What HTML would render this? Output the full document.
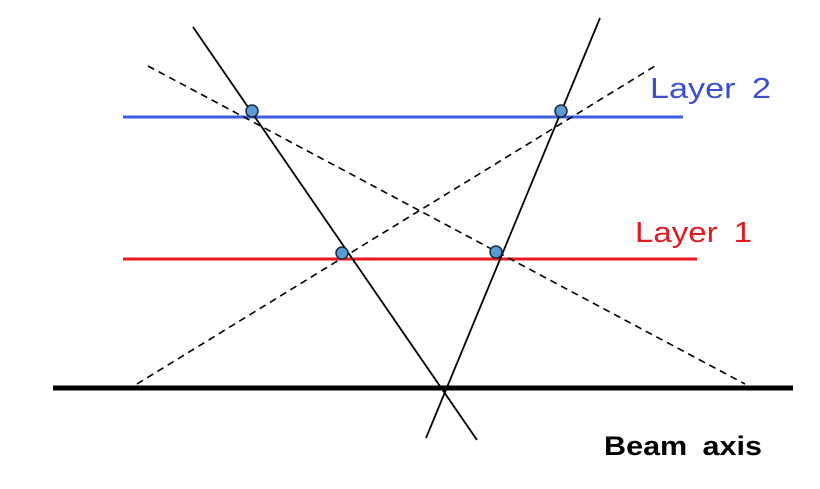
<!DOCTYPE html>
<html><head><meta charset="utf-8"><style>html,body{margin:0;padding:0;background:#fff}svg{display:block}</style></head>
<body>
<svg width="820" height="489" viewBox="0 0 820 489" xmlns="http://www.w3.org/2000/svg">
<line x1="53" y1="388" x2="793" y2="388" stroke="#000" stroke-width="5"/>
<line x1="123" y1="117" x2="683" y2="117" stroke="#3a5fd8" stroke-width="3"/>
<line x1="123" y1="259" x2="697" y2="259" stroke="#e8191f" stroke-width="3"/>
<line x1="193" y1="27" x2="477" y2="440" stroke="#000" stroke-width="1.8"/>
<line x1="600" y1="18" x2="426" y2="438" stroke="#000" stroke-width="1.8"/>
<line x1="148" y1="66" x2="745" y2="384" stroke="#000" stroke-width="1.6" stroke-dasharray="7,5"/>
<line x1="137" y1="384" x2="655" y2="66" stroke="#000" stroke-width="1.6" stroke-dasharray="7,5"/>
<g fill="#5b9bd5" stroke="#1a2a40" stroke-width="1.5">
<circle cx="252" cy="111" r="6"/>
<circle cx="561" cy="111" r="6"/>
<circle cx="342" cy="253" r="6"/>
<circle cx="496" cy="252" r="6"/>
</g>
<text x="650" y="98" font-family="Liberation Sans, sans-serif" font-size="29" fill="#3a4fd0" textLength="121" lengthAdjust="spacingAndGlyphs" word-spacing="6">Layer 2</text>
<text x="635" y="242" font-family="Liberation Sans, sans-serif" font-size="29" fill="#e01a22" textLength="117" lengthAdjust="spacingAndGlyphs" word-spacing="6">Layer 1</text>
<text x="604" y="455" font-family="Liberation Sans, sans-serif" font-size="27" font-weight="bold" fill="#000" textLength="158" lengthAdjust="spacingAndGlyphs" word-spacing="6">Beam axis</text>
</svg>
</body></html>
